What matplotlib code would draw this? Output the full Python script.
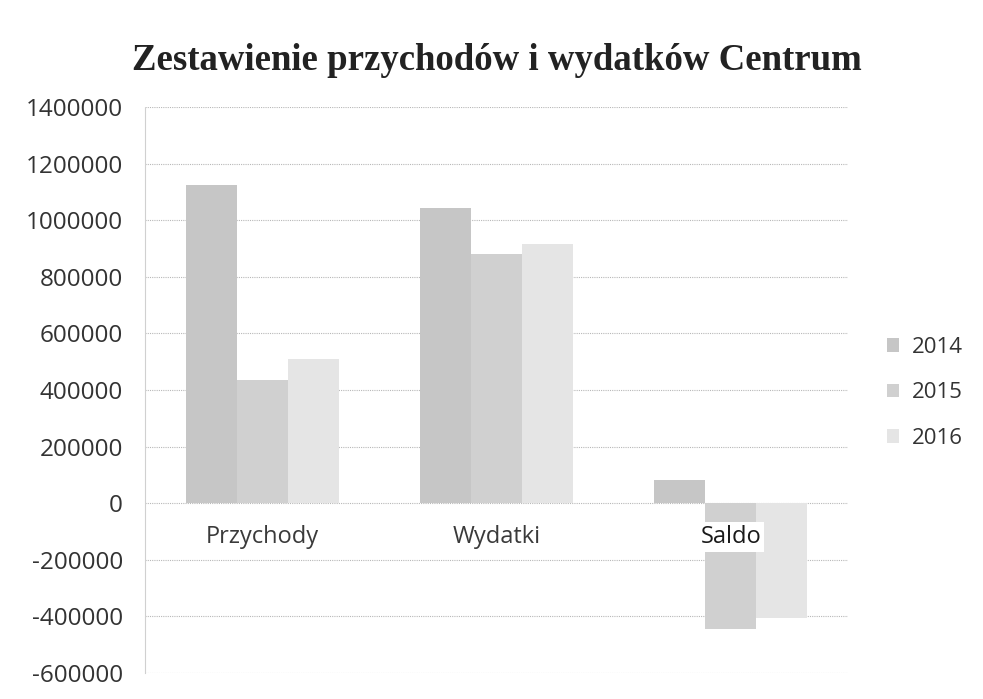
import matplotlib
matplotlib.use('Agg')
import matplotlib.pyplot as plt
import numpy as np

categories = ['Przychody', 'Wydatki', 'Saldo']
years = ['2014', '2015', '2016']
values = {
    '2014': [1125000, 1043000, 82000],
    '2015': [435000, 880000, -445000],
    '2016': [509000, 916000, -407000],
}
colors = ['#c6c6c6', '#d0d0d0', '#e5e5e5']  # greyscale scan look
yticks = [-600000, -400000, -200000, 0, 200000, 400000, 600000, 800000,
          1000000, 1200000, 1400000]

fig = plt.figure(figsize=(9.83, 6.99), dpi=100)
# plot area in pixel coords: left 145, right 848, top 107, bottom 673
ax = fig.add_axes([145/983, 1 - 673/699, (848-145)/983, (673-107)/699])

x = np.arange(len(categories))
w = 0.218
for i, yr in enumerate(years):
    ax.bar(x + (i-1)*w, values[yr], width=w, color=colors[i], label=yr,
           zorder=2, linewidth=0)

ax.set_xlim(-0.5, 2.5)
ax.set_ylim(-600000, 1400000)
ax.set_yticks(yticks)
ax.set_yticklabels([str(t) for t in yticks], fontfamily='Open Sans',
                   fontsize=17.5, color='#333333')
ax.tick_params(axis='y', length=0, pad=16)
ax.tick_params(axis='x', length=0)
ax.set_xticks([])
for i, c in enumerate(categories):
    bbox = dict(facecolor='white', edgecolor='none', pad=2) if c == 'Saldo' else None
    ax.text(x[i], -120000, c, ha='center', va='center', fontfamily='Open Sans',
            fontsize=17, color='#1a1a1a' if c == 'Saldo' else '#3a3a3a',
            zorder=3, bbox=bbox)

ax.grid(axis='y', color='#b8b8b8', linestyle=(0, (1, 1)), linewidth=0.8, zorder=0)
for s in ['top', 'right', 'bottom']:
    ax.spines[s].set_visible(False)
ax.spines['left'].set_color('#d0d0d0')
ax.spines['left'].set_linewidth(0.8)
ax.spines['left'].set_linestyle((0, (1, 1)))

fig.text(497/983, 1 - 60/699, 'Zestawienie przychodów i wydatków Centrum',
         ha='center', va='center', fontfamily='Liberation Serif',
         fontweight='bold', fontsize=26.5, color='#222222')

leg = ax.legend(loc='center left', bbox_to_anchor=(1.027, 0.495), frameon=False,
                prop={'family': 'Open Sans', 'size': 16}, handlelength=0.55,
                handleheight=0.55, labelspacing=1.1, handletextpad=0.55)
for t in leg.get_texts():
    t.set_color('#333333')

fig.savefig('out.png', dpi=100, facecolor='white')
